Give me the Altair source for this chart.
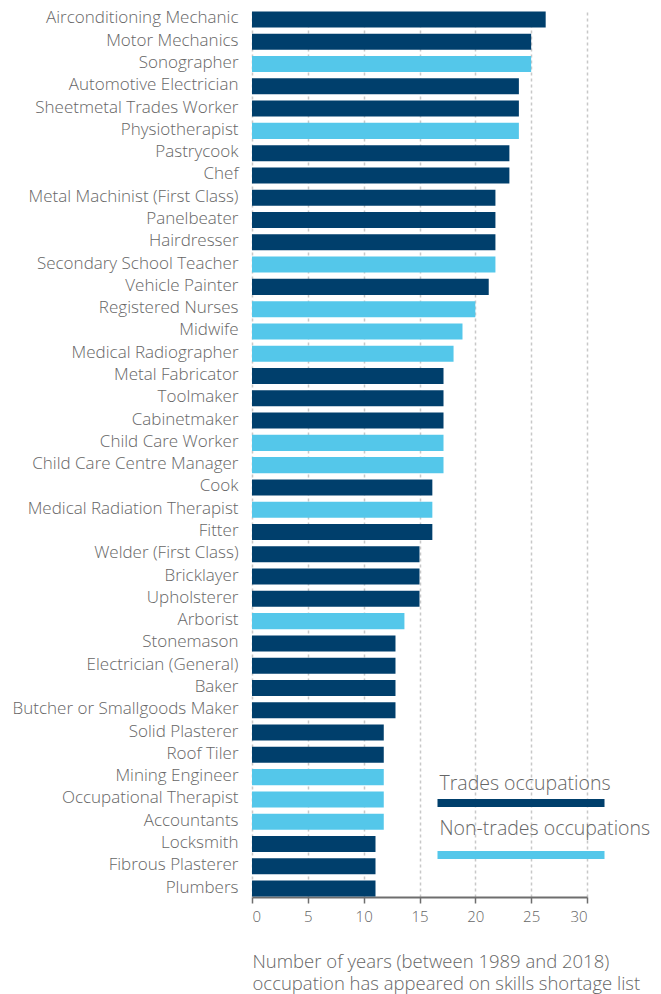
import altair as alt
import pandas as pd

occupations = [
    "Airconditioning Mechanic", "Motor Mechanics", "Sonographer", "Automotive Electrician",
    "Sheetmetal Trades Worker", "Physiotherapist", "Pastrycook", "Chef",
    "Metal Machinist (First Class)", "Panelbeater", "Hairdresser", "Secondary School Teacher",
    "Vehicle Painter", "Registered Nurses", "Midwife", "Medical Radiographer",
    "Metal Fabricator", "Toolmaker", "Cabinetmaker", "Child Care Worker",
    "Child Care Centre Manager", "Cook", "Medical Radiation Therapist", "Fitter",
    "Welder (First Class)", "Bricklayer", "Upholsterer", "Arborist",
    "Stonemason", "Electrician (General)", "Baker", "Butcher or Smallgoods Maker",
    "Solid Plasterer", "Roof Tiler", "Mining Engineer", "Occupational Therapist",
    "Accountants", "Locksmith", "Fibrous Plasterer", "Plumbers",
]
years = [
    26.3, 25.0, 25.0, 23.9,
    23.9, 23.9, 23.05, 23.05,
    21.8, 21.8, 21.8, 21.8,
    21.2, 20.0, 18.85, 18.05,
    17.15, 17.15, 17.15, 17.15,
    17.15, 16.15, 16.15, 16.15,
    15.0, 15.0, 15.0, 13.65,
    12.85, 12.85, 12.85, 12.85,
    11.8, 11.8, 11.8, 11.8,
    11.8, 11.06, 11.06, 11.06,
]
T, N = "Trades occupations", "Non-trades occupations"
groups = [
    T, T, N, T,
    T, N, T, T,
    T, T, T, N,
    T, N, N, N,
    T, T, T, N,
    N, T, N, T,
    T, T, T, N,
    T, T, T, T,
    T, T, N, N,
    N, T, T, T,
]
legend_labels = [T, N]
colors = ["#003f6c", "#54c7ea"]
x_ticks = [0, 5, 10, 15, 20, 25, 30]
x_title = ["Number of years (between 1989 and 2018)",
           "occupation has appeared on skills shortage list"]

FONT = "Open Sans"
TEXT = "#666666"

df = pd.DataFrame({"occupation": occupations, "years": years, "group": groups})

bars = alt.Chart(df).mark_bar().encode(
    x=alt.X("years:Q",
            scale=alt.Scale(domain=[0, 30], nice=False),
            axis=alt.Axis(values=x_ticks, title=x_title, grid=True,
                          gridDash=[3, 3], gridColor="#c8c8c8", gridWidth=1.5,
                          domainColor="#6e6e6e", domainWidth=2,
                          tickColor="#6e6e6e", tickSize=6, tickWidth=1.5,
                          labelFont=FONT, labelFontSize=15, labelColor=TEXT,
                          labelPadding=6, labelFontWeight=300,
                          titleFont=FONT, titleFontSize=18.5, titleColor=TEXT,
                          titleFontWeight=300, titleAlign="left", titleAnchor="start",
                          titleX=0, titleY=70, titleBaseline="alphabetic",
                          titleLineHeight=22)),
    y=alt.Y("occupation:N", sort=occupations,
            scale=alt.Scale(paddingInner=0.28, paddingOuter=0.02),
            axis=alt.Axis(title=None, ticks=False, domain=False, grid=False,
                          labelFont=FONT, labelFontSize=17, labelColor=TEXT,
                          labelFontWeight=300, labelPadding=14, labelLimit=0,
                          labelOffset=-1)),
    color=alt.Color("group:N", scale=alt.Scale(domain=legend_labels, range=colors),
                    legend=None),
)

TOP = 3
layers = [bars]
text_y = [782 - TOP, 827 - TOP]
rect_y = [791 - TOP, 843 - TOP]
for lbl, col, ty, ry in zip(legend_labels, colors, text_y, rect_y):
    ldf = pd.DataFrame({"label": [lbl]})
    layers.append(
        alt.Chart(ldf).mark_text(align="left", baseline="alphabetic", font=FONT,
                                 fontSize=19.5, fontWeight=300, color=TEXT).encode(
            text="label:N", x=alt.value(187.5), y=alt.value(ty))
    )
    layers.append(
        alt.Chart(ldf).mark_rect(color=col).encode(
            x=alt.value(185.5), x2=alt.value(352.5), y=alt.value(ry), y2=alt.value(ry + 8))
    )

chart = alt.layer(*layers).properties(
    width=335, height=889 - TOP,
    autosize=alt.AutoSizeParams(type="none"),
    padding={"left": 244, "top": TOP, "right": 66, "bottom": 97},
).configure_view(stroke=None)

chart.save("out.html", embed_options={"renderer": "svg", "actions": False})
